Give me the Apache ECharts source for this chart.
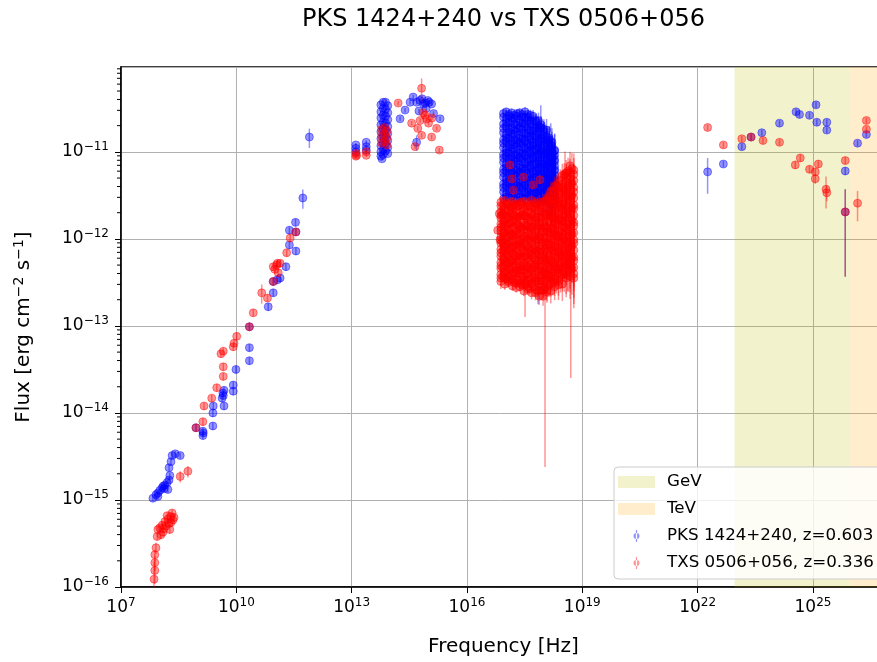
<!DOCTYPE html>
<html>
<head>
<meta charset="utf-8">
<script src="https://cdn.jsdelivr.net/npm/echarts@6/dist/echarts.min.js"></script>
<style>
  html, body { margin: 0; padding: 0; background: #fff; }
  #chart { width: 877px; height: 662px; }
</style>
</head>
<body>
<div id="chart"></div>
<script>
// Rows are [log10 frequency (Hz), log10 flux (erg cm^-2 s^-1), fractional flux error]

// PKS 1424+240 — radio to sub-mm
const pksRadio = [
  [7.83,-14.98,0.08],[7.91,-14.94,0.08],[7.96,-14.92,0.08],[8.01,-14.89,0.08],[8.07,-14.86,0.08],
  [8.12,-14.87,0.08],[8.14,-14.83,0.08],[8.20,-14.80,0.08],[8.25,-14.77,0.08],[8.22,-14.88,0.08],
  [8.27,-14.72,0.08],[8.25,-14.63,0.08],[8.30,-14.56,0.08],[8.33,-14.49,0.08],[8.41,-14.47,0.08],
  [8.54,-14.49,0.08],[7.96,-14.96,0.08],[8.10,-14.84,0.08],
  [8.95,-14.17,0.10],[9.13,-14.21,0.10],[9.13,-14.26,0.10],[9.14,-14.23,0.08],
  [9.39,-14.15,0.10],[9.39,-14.00,0.10],[9.40,-13.92,0.10],
  [9.65,-13.77,0.10],[9.68,-13.74,0.10],[9.63,-13.83,0.10],[9.66,-13.80,0.10],[9.68,-13.92,0.10],
  [9.92,-13.68,0.10],[9.92,-13.75,0.10],[9.99,-13.50,0.10],
  [10.34,-13.25,0.10],[10.34,-13.40,0.10],[10.34,-13.01,0.10],
  [10.83,-12.78,0.10],[10.96,-12.62,0.10],[10.96,-12.49,0.10],[11.07,-12.47,0.10],[11.14,-12.45,0.10],
  [11.29,-12.32,0.10],[11.38,-12.07,0.10],[11.55,-12.14,0.10],[11.38,-11.90,0.10],[11.55,-11.92,0.10],
  [11.54,-11.81,0.10],[11.73,-11.53,0.25],[11.90,-10.83,0.25]
];

// PKS 1424+240 — infrared / optical / UV
const pksOptical = [
  [13.11,-10.92,0.05],[13.11,-10.96,0.05],[13.11,-11.00,0.05],
  [13.38,-10.89,0.05],[13.38,-10.94,0.05],[13.38,-10.98,0.05],
  [13.76,-10.46,0.05],[13.76,-10.54,0.05],[13.76,-10.61,0.05],[13.76,-10.69,0.05],[13.76,-10.77,0.05],
  [13.76,-10.85,0.05],[13.76,-10.93,0.05],[13.76,-11.00,0.05],[13.76,-11.05,0.05],
  [13.82,-10.43,0.05],[13.82,-10.50,0.05],[13.82,-10.58,0.05],[13.82,-10.66,0.05],[13.82,-10.74,0.05],
  [13.82,-10.82,0.05],[13.82,-10.90,0.05],[13.82,-10.98,0.05],[13.82,-11.03,0.05],
  [13.88,-10.43,0.05],[13.88,-10.51,0.05],[13.88,-10.59,0.05],[13.88,-10.67,0.05],[13.88,-10.75,0.05],
  [13.88,-10.83,0.05],[13.88,-10.91,0.05],[13.88,-10.99,0.05],
  [13.94,-10.47,0.05],[13.94,-10.55,0.05],[13.94,-10.63,0.05],[13.94,-10.71,0.05],[13.94,-10.79,0.05],
  [13.94,-10.87,0.05],[13.94,-10.95,0.05],[13.94,-11.02,0.05],[13.79,-11.08,0.05],
  [14.39,-10.52,0.06],[14.52,-10.43,0.06],[14.60,-10.37,0.06],[14.69,-10.43,0.06],[14.75,-10.53,0.06],
  [14.78,-10.41,0.06],[14.87,-10.45,0.06],[14.94,-10.50,0.06],[14.98,-10.41,0.06],[15.08,-10.45,0.06],
  [15.13,-10.56,0.06],[14.26,-10.62,0.06],[15.30,-10.62,0.06],[14.69,-10.89,0.20],[15.02,-10.43,0.06],
  [14.83,-10.39,0.06],[14.91,-10.44,0.06]
];

// PKS 1424+240 — X-ray spectra on a common frequency grid
const pksXrayNu = [16.95,17.02,17.09,17.16,17.23,17.30,17.37,17.44,17.51,17.58,
                   17.65,17.72,17.79,17.86,17.93,18.00,18.07,18.14,18.21,18.28];
const pksXrayErr = [0.12,0.10,0.10,0.10,0.10,0.10,0.11,0.12,0.13,0.14,
                    0.16,0.18,0.20,0.23,0.26,0.30,0.34,0.38,0.45,0.55];
const pksXraySpectra = [
  [-10.56,-10.54,-10.57,-10.55,-10.58,-10.56,-10.55,-10.57,-10.54,-10.57,-10.58,-10.59,-10.64,-10.64,-10.69,-10.74,-10.75,-10.84,-10.89,-10.98],
  [-10.60,-10.62,-10.59,-10.61,-10.62,-10.59,-10.63,-10.60,-10.61,-10.60,-10.64,-10.65,-10.65,-10.71,-10.72,-10.77,-10.83,-10.86,-10.93,-10.99],
  [-10.68,-10.66,-10.67,-10.65,-10.68,-10.69,-10.66,-10.67,-10.68,-10.65,-10.68,-10.72,-10.73,-10.73,-10.80,-10.81,-10.86,-10.90,-10.98,-11.04],
  [-10.73,-10.71,-10.74,-10.72,-10.75,-10.73,-10.72,-10.74,-10.71,-10.74,-10.75,-10.76,-10.80,-10.80,-10.84,-10.88,-10.89,-10.97,-11.01,-11.09],
  [-10.78,-10.80,-10.77,-10.79,-10.80,-10.77,-10.81,-10.78,-10.79,-10.78,-10.82,-10.82,-10.82,-10.88,-10.88,-10.93,-10.98,-11.00,-11.06,-11.11],
  [-10.86,-10.84,-10.85,-10.83,-10.86,-10.87,-10.84,-10.85,-10.86,-10.83,-10.86,-10.89,-10.90,-10.90,-10.97,-10.97,-11.01,-11.04,-11.12,-11.16],
  [-10.90,-10.88,-10.91,-10.89,-10.92,-10.90,-10.89,-10.91,-10.88,-10.91,-10.92,-10.92,-10.97,-10.96,-10.99,-11.03,-11.03,-11.11,-11.13,-11.20],
  [-10.95,-10.97,-10.94,-10.96,-10.97,-10.94,-10.98,-10.95,-10.96,-10.95,-10.98,-10.99,-10.98,-11.03,-11.03,-11.07,-11.12,-11.13,-11.18,-11.22],
  [-11.03,-11.01,-11.02,-11.00,-11.03,-11.04,-11.01,-11.02,-11.03,-11.00,-11.02,-11.06,-11.06,-11.06,-11.12,-11.11,-11.15,-11.17,-11.24,-11.27],
  [-11.07,-11.05,-11.08,-11.06,-11.09,-11.07,-11.06,-11.08,-11.05,-11.08,-11.08,-11.08,-11.13,-11.11,-11.14,-11.18,-11.17,-11.24,-11.25,-11.31],
  [-11.12,-11.14,-11.11,-11.13,-11.14,-11.11,-11.15,-11.12,-11.13,-11.12,-11.15,-11.15,-11.14,-11.19,-11.19,-11.22,-11.26,-11.26,-11.31,-11.33],
  [-11.20,-11.18,-11.19,-11.17,-11.20,-11.21,-11.18,-11.19,-11.20,-11.17,-11.19,-11.22,-11.22,-11.21,-11.27,-11.26,-11.29,-11.30,-11.36,-11.38],
  [-11.24,-11.22,-11.25,-11.23,-11.26,-11.24,-11.23,-11.25,-11.22,-11.25,-11.25,-11.25,-11.29,-11.27,-11.29,-11.32,-11.31,-11.37,-11.37,-11.42],
  [-11.29,-11.31,-11.28,-11.30,-11.31,-11.28,-11.32,-11.29,-11.30,-11.29,-11.32,-11.32,-11.30,-11.35,-11.34,-11.36,-11.40,-11.39,-11.43,-11.44],
  [-11.37,-11.35,-11.36,-11.34,-11.37,-11.38,-11.35,-11.36,-11.37,-11.34,-11.36,-11.38,-11.38,-11.37,-11.42,-11.41,-11.43,-11.43,-11.48,-11.49],
  [-11.41,-11.39,-11.42,-11.40,-11.43,-11.41,-11.40,-11.42,-11.39,-11.42,-11.42,-11.41,-11.45,-11.43,-11.45,-11.47,-11.45,-11.50,-11.50,-11.53],
  [-11.46,-11.48,-11.45,-11.47,-11.48,-11.45,-11.49,-11.46,-11.47,-11.46,-11.48,-11.48,-11.47,-11.50,-11.49,-11.51,-11.54,-11.53,-11.55,-11.55],
  [-11.54,-11.52,-11.53,-11.51,-11.54,-11.55,-11.52,-11.53,-11.54,-11.51,-11.52,-11.55,-11.54,-11.53,-11.57,-11.55,-11.57,-11.56,-11.60,-11.60]
];
const pksXrayExtra = [[17.92,-10.72,0.80],[18.18,-10.95,0.90],[17.85,-11.45,0.95],[18.25,-11.05,0.60]];

// PKS 1424+240 — gamma rays
const pksGamma = [
  [22.26,-11.23,0.44],[22.67,-11.14,0.08],[23.15,-10.94,0.08],[23.39,-10.83,0.08],[23.67,-10.78,0.08],
  [24.13,-10.67,0.08],[24.56,-10.54,0.08],[24.65,-10.57,0.08],[24.91,-10.58,0.08],[25.08,-10.46,0.08],
  [25.10,-10.66,0.08],[25.36,-10.66,0.08],[25.36,-10.75,0.08],[25.84,-11.22,0.10],[25.84,-11.69,0.82],
  [26.16,-10.90,0.08],[26.39,-10.80,0.08]
];

// TXS 0506+056 — radio to sub-mm
const txsRadio = [
  [7.88,-15.63,0.15],[7.88,-15.72,0.20],[7.88,-15.81,0.30],[7.86,-15.91,0.60],[7.91,-15.55,0.15],
  [7.94,-15.42,0.10],[7.96,-15.34,0.10],[8.01,-15.32,0.10],[8.07,-15.29,0.10],[8.09,-15.37,0.10],
  [8.14,-15.25,0.10],[8.17,-15.30,0.10],[8.22,-15.22,0.10],[8.25,-15.27,0.10],[8.30,-15.19,0.10],
  [8.33,-15.15,0.10],[8.35,-15.23,0.10],[8.38,-15.20,0.10],[8.27,-15.34,0.10],[8.04,-15.40,0.10],
  [8.20,-15.18,0.10],[8.12,-15.33,0.10],[8.30,-15.26,0.10],
  [8.54,-14.73,0.15],[8.74,-14.67,0.15],
  [8.95,-14.17,0.10],[9.13,-14.10,0.10],[9.16,-13.92,0.10],[9.36,-13.83,0.10],[9.49,-13.71,0.10],
  [9.66,-13.58,0.10],[9.66,-13.47,0.10],[9.66,-13.29,0.10],[9.60,-13.32,0.10],
  [9.92,-13.24,0.10],[9.94,-13.20,0.10],[10.01,-13.12,0.10],[10.34,-13.01,0.10],[10.44,-12.85,0.10],
  [10.66,-12.62,0.25],[10.81,-12.68,0.10],
  [10.96,-12.32,0.10],[11.05,-12.30,0.10],[11.07,-12.28,0.10],[11.14,-12.28,0.10],[11.09,-12.39,0.10],
  [11.00,-12.35,0.10],[10.96,-12.49,0.10],[11.31,-12.16,0.10],[11.40,-11.99,0.10],[11.55,-11.92,0.10]
];

// TXS 0506+056 — infrared / optical / UV
const txsOptical = [
  [13.11,-11.02,0.05],[13.11,-11.05,0.05],[13.13,-11.04,0.05],[13.38,-11.00,0.05],[13.38,-11.04,0.05],
  [13.78,-10.74,0.05],[13.78,-10.82,0.05],[13.78,-10.90,0.05],[13.86,-10.72,0.05],[13.86,-10.80,0.05],
  [13.86,-10.88,0.05],[13.92,-10.76,0.05],[13.92,-10.84,0.05],[13.92,-10.92,0.05],
  [14.21,-10.44,0.06],[14.82,-10.27,0.30],[14.56,-10.67,0.06],[14.78,-10.64,0.06],[15.00,-10.67,0.06],
  [15.21,-10.73,0.06],[14.82,-10.81,0.06],[15.08,-10.83,0.06],[14.65,-10.94,0.06],[15.28,-10.98,0.06],
  [14.91,-10.58,0.06],[14.72,-10.73,0.06],[15.09,-10.61,0.06],[14.86,-10.55,0.06],[14.95,-10.62,0.06]
];

// TXS 0506+056 — X-ray spectra, first frequency grid
const txsXrayNu = [16.88,16.98,17.08,17.18,17.28,17.38,17.48,17.58,17.68,17.78,
                   17.88,17.98,18.08,18.18,18.28,18.38,18.48,18.58,18.68,18.78];
const txsXrayErr = [0.18,0.14,0.12,0.12,0.12,0.12,0.13,0.14,0.16,0.18,
                    0.20,0.22,0.25,0.28,0.30,0.33,0.36,0.40,0.45,0.55];
const txsXraySpectra = [
  [-11.58,-11.56,-11.59,-11.57,-11.60,-11.58,-11.57,-11.59,-11.56,-11.59,-11.58,-11.57,-11.54,-11.45,-11.40,-11.36,-11.27,-11.24,-11.16,-11.21],
  [-11.62,-11.64,-11.61,-11.63,-11.64,-11.61,-11.65,-11.62,-11.64,-11.63,-11.65,-11.64,-11.56,-11.53,-11.45,-11.41,-11.37,-11.28,-11.24,-11.26],
  [-11.69,-11.67,-11.68,-11.66,-11.69,-11.70,-11.68,-11.69,-11.70,-11.67,-11.68,-11.70,-11.64,-11.56,-11.55,-11.46,-11.41,-11.34,-11.31,-11.33],
  [-11.73,-11.71,-11.74,-11.72,-11.75,-11.74,-11.73,-11.75,-11.72,-11.76,-11.75,-11.74,-11.72,-11.63,-11.59,-11.54,-11.46,-11.43,-11.36,-11.41],
  [-11.76,-11.79,-11.76,-11.78,-11.79,-11.77,-11.81,-11.78,-11.80,-11.79,-11.82,-11.81,-11.73,-11.71,-11.64,-11.59,-11.56,-11.48,-11.44,-11.46],
  [-11.83,-11.81,-11.83,-11.81,-11.84,-11.86,-11.84,-11.85,-11.86,-11.83,-11.85,-11.87,-11.81,-11.74,-11.73,-11.65,-11.61,-11.53,-11.51,-11.53],
  [-11.87,-11.85,-11.89,-11.87,-11.91,-11.89,-11.89,-11.91,-11.88,-11.92,-11.91,-11.91,-11.89,-11.81,-11.77,-11.73,-11.65,-11.63,-11.56,-11.61],
  [-11.91,-11.93,-11.91,-11.94,-11.95,-11.93,-11.97,-11.94,-11.96,-11.96,-11.98,-11.98,-11.91,-11.89,-11.82,-11.78,-11.75,-11.67,-11.63,-11.65],
  [-11.98,-11.96,-11.98,-11.96,-12.00,-12.02,-12.00,-12.01,-12.02,-12.00,-12.01,-12.04,-11.99,-11.92,-11.91,-11.83,-11.80,-11.73,-11.71,-11.73],
  [-12.02,-12.00,-12.04,-12.02,-12.06,-12.05,-12.05,-12.07,-12.04,-12.08,-12.08,-12.08,-12.07,-11.99,-11.95,-11.92,-11.84,-11.82,-11.76,-11.81],
  [-12.05,-12.08,-12.06,-12.09,-12.10,-12.08,-12.13,-12.10,-12.13,-12.12,-12.15,-12.15,-12.08,-12.07,-12.00,-11.97,-11.94,-11.87,-11.83,-11.85],
  [-12.12,-12.10,-12.13,-12.11,-12.15,-12.17,-12.15,-12.16,-12.18,-12.16,-12.18,-12.21,-12.16,-12.10,-12.09,-12.02,-11.99,-11.92,-11.91,-11.93],
  [-12.16,-12.14,-12.18,-12.16,-12.20,-12.20,-12.20,-12.22,-12.19,-12.24,-12.24,-12.25,-12.24,-12.17,-12.14,-12.10,-12.03,-12.02,-11.96,-12.01],
  [-12.20,-12.23,-12.21,-12.24,-12.25,-12.23,-12.29,-12.26,-12.29,-12.29,-12.31,-12.32,-12.26,-12.25,-12.19,-12.15,-12.13,-12.06,-12.03,-12.05],
  [-12.27,-12.25,-12.28,-12.26,-12.31,-12.33,-12.31,-12.32,-12.34,-12.32,-12.35,-12.39,-12.34,-12.28,-12.28,-12.21,-12.18,-12.12,-12.11,-12.13],
  [-12.31,-12.30,-12.33,-12.32,-12.36,-12.36,-12.36,-12.39,-12.36,-12.41,-12.42,-12.42,-12.41,-12.35,-12.32,-12.29,-12.22,-12.21,-12.16,-12.21],
  [-12.34,-12.38,-12.35,-12.39,-12.40,-12.39,-12.43,-12.41,-12.45,-12.45,-12.48,-12.49,-12.43,-12.42,-12.37,-12.34,-12.32,-12.26,-12.23,-12.25],
  [-12.41,-12.40,-12.43,-12.42,-12.46,-12.48,-12.47,-12.48,-12.51,-12.49,-12.52,-12.56,-12.51,-12.45,-12.46,-12.39,-12.37,-12.31,-12.31,-12.33],
  [-12.45,-12.45,-12.48,-12.47,-12.51,-12.51,-12.52,-12.55,-12.52,-12.58,-12.59,-12.59,-12.59,-12.52,-12.50,-12.48,-12.41,-12.41,-12.35,-12.40],
  [-12.49,-12.52,-12.50,-12.54,-12.56,-12.55,-12.60,-12.58,-12.62,-12.62,-12.66,-12.66,-12.61,-12.60,-12.55,-12.53,-12.52,-12.45,-12.43,-12.45]
];

// TXS 0506+056 — X-ray spectra, second (offset) frequency grid
const txsXrayNu2 = [16.93,17.03,17.13,17.23,17.33,17.43,17.53,17.63,17.73,17.83,
                    17.93,18.03,18.13,18.23,18.33,18.43,18.53,18.63,18.73];
const txsXrayErr2 = [0.16,0.13,0.12,0.12,0.12,0.12,0.13,0.15,0.17,0.19,
                     0.21,0.24,0.27,0.29,0.32,0.35,0.38,0.42,0.50];
const txsXraySpectra2 = [
  [-11.62,-11.60,-11.63,-11.61,-11.62,-11.60,-11.63,-11.61,-11.62,-11.60,-11.61,-11.57,-11.51,-11.45,-11.39,-11.33,-11.27,-11.22,-11.19],
  [-11.72,-11.74,-11.71,-11.73,-11.75,-11.72,-11.74,-11.76,-11.73,-11.75,-11.76,-11.72,-11.66,-11.60,-11.55,-11.49,-11.44,-11.39,-11.36],
  [-11.83,-11.85,-11.82,-11.86,-11.84,-11.87,-11.85,-11.88,-11.86,-11.89,-11.88,-11.85,-11.80,-11.75,-11.69,-11.64,-11.59,-11.54,-11.50],
  [-11.93,-11.95,-11.94,-11.97,-11.95,-11.99,-11.97,-12.00,-11.98,-12.02,-12.00,-11.98,-11.93,-11.88,-11.83,-11.78,-11.73,-11.68,-11.65],
  [-12.04,-12.06,-12.04,-12.08,-12.07,-12.10,-12.09,-12.12,-12.11,-12.14,-12.13,-12.11,-12.06,-12.01,-11.97,-11.92,-11.87,-11.83,-11.79],
  [-12.14,-12.17,-12.15,-12.19,-12.18,-12.22,-12.20,-12.24,-12.22,-12.26,-12.25,-12.23,-12.19,-12.14,-12.10,-12.06,-12.01,-11.97,-11.94],
  [-12.23,-12.26,-12.25,-12.29,-12.28,-12.32,-12.31,-12.35,-12.33,-12.37,-12.36,-12.35,-12.31,-12.27,-12.23,-12.19,-12.15,-12.11,-12.08],
  [-12.33,-12.36,-12.35,-12.39,-12.38,-12.43,-12.41,-12.46,-12.44,-12.49,-12.48,-12.46,-12.42,-12.38,-12.35,-12.31,-12.27,-12.24,-12.21],
  [-12.43,-12.46,-12.45,-12.50,-12.48,-12.53,-12.52,-12.57,-12.55,-12.60,-12.59,-12.57,-12.53,-12.50,-12.46,-12.43,-12.40,-12.37,-12.34]
];
const txsXrayExtra = [
  [18.03,-12.40,0.994],[18.70,-12.20,0.96],[17.51,-12.50,0.60],[18.62,-12.30,0.50],[18.55,-11.25,0.80],
  [16.84,-11.71,0.15],[16.86,-12.01,0.15],[16.80,-11.90,0.12],
  [17.12,-11.15,0.10],[17.17,-11.31,0.10],[17.21,-11.44,0.10],[17.47,-11.29,0.10],[17.72,-11.38,0.10],[17.90,-11.32,0.10]
];

// TXS 0506+056 — gamma rays
const txsGamma = [
  [22.26,-10.72,0.08],[22.67,-10.92,0.08],[23.15,-10.85,0.08],[23.39,-10.83,0.08],[23.70,-10.87,0.08],
  [24.13,-10.89,0.08],[24.54,-11.15,0.10],[24.67,-11.07,0.10],[24.91,-11.20,0.10],[25.06,-11.23,0.10],
  [25.14,-11.14,0.10],[25.06,-11.31,0.12],[25.34,-11.43,0.40],[25.36,-11.47,0.20],[25.84,-11.10,0.10],
  [25.84,-11.69,0.82],[26.16,-11.59,0.38],[26.39,-10.64,0.08],[26.39,-10.74,0.08]
];

// Energy bands, log10 frequency (Hz)
const bandGeV = [22.96, 25.97];
const bandTeV = [25.97, 27.5];

// Axis ranges (log10) and tick lists
const xRangeLog = [7, 26.9];
const yRangeLog = [-16, -10.025];
const yDecades = [-16, -15, -14, -13, -12, -11];
const minorMantissas = [2, 3, 4, 5, 6, 7, 8, 9];

const PKS_NAME = 'PKS 1424+240, z=0.603';
const TXS_NAME = 'TXS 0506+056, z=0.336';
const BLUE = 'rgba(0,0,255,0.42)';
const RED = 'rgba(255,0,0,0.42)';
const FONT = 'DejaVu Sans';

const p10 = v => Math.pow(10, v);
const toPts = rows => rows.map(r => [p10(r[0]), p10(r[1]), r[2]]);
function spectraPts(nu, spectra, err) {
  const out = [];
  spectra.forEach(s => s.forEach((f, i) => out.push([p10(nu[i]), p10(f), err[i]])));
  return out;
}

const pksPts = [].concat(
  toPts(pksRadio), toPts(pksOptical),
  spectraPts(pksXrayNu, pksXraySpectra, pksXrayErr), toPts(pksXrayExtra), toPts(pksGamma));
const txsPts = [].concat(
  toPts(txsRadio), toPts(txsOptical),
  spectraPts(txsXrayNu, txsXraySpectra, txsXrayErr),
  spectraPts(txsXrayNu2, txsXraySpectra2, txsXrayErr2),
  toPts(txsXrayExtra), toPts(txsGamma));

const minorTicks = [];
yDecades.forEach(d => minorMantissas.forEach(m => {
  const v = m * p10(d);
  if (v < p10(yRangeLog[1])) minorTicks.push([p10(xRangeLog[0]), v]);
}));

// Error-bar marker: vertical bar with a dot, for the legend
const errIcon = 'path://M0,6A3,3 0 1,0 6,6A3,3 0 1,0 0,6Z M2.4,0H3.6V12H2.4Z';

function errorbarSeries(name, pts, color) {
  return {
    name, type: 'custom', coordinateSystem: 'cartesian2d', clip: true, z: 3,
    itemStyle: { color }, data: pts,
    renderItem(params, api) {
      const nu = api.value(0), f = api.value(1), e = api.value(2);
      const c = api.coord([nu, f]);
      const hi = api.coord([nu, f * (1 + e)]);
      const lo = api.coord([nu, Math.max(f * (1 - e), 1e-20)]);
      return { type: 'group', children: [
        { type: 'line', shape: { x1: c[0], y1: lo[1], x2: c[0], y2: hi[1] },
          style: { stroke: color, lineWidth: 1.5 } },
        { type: 'circle', shape: { cx: c[0], cy: c[1], r: 4 },
          style: { fill: color, stroke: color, lineWidth: 1 } }
      ]};
    }
  };
}

function bandSeries(name, band, color) {
  return {
    name, type: 'custom', coordinateSystem: 'cartesian2d', clip: true, silent: true, z: 1,
    itemStyle: { color },
    data: [[p10(band[0]), p10(band[1])]],
    renderItem(params, api) {
      const cs = params.coordSys;
      const x0 = api.coord([api.value(0), 1e-13])[0];
      const x1 = api.coord([api.value(1), 1e-13])[0];
      return { type: 'rect', shape: { x: x0, y: cs.y, width: x1 - x0, height: cs.height },
        style: { fill: color } };
    }
  };
}

function powLabel(value) {
  const e = Math.log10(value);
  const r = Math.round(e);
  if (Math.abs(e - r) > 1e-6) return '';
  return '{b|10}{s|' + String(r).replace('-', '\u2212') + '}';
}

const tickRich = {
  b: { fontFamily: FONT, fontSize: 17, color: '#000', lineHeight: 22 },
  s: { fontFamily: FONT, fontSize: 12, color: '#000', lineHeight: 13, verticalAlign: 'top' }
};

const chart = echarts.init(document.getElementById('chart'), null, { renderer: 'canvas' });
chart.setOption({
  animation: false,
  backgroundColor: '#fff',
  title: {
    text: 'PKS 1424+240 vs TXS 0506+056',
    left: 503.5, top: 6, textAlign: 'center', padding: 0,
    textStyle: { fontFamily: FONT, fontSize: 24, fontWeight: 'normal', color: '#000', lineHeight: 28 }
  },
  grid: {
    left: 121, top: 67, right: -9, bottom: 75, containLabel: false, outerBoundsMode: 'none',
    show: true, borderColor: '#000', borderWidth: 1.5, backgroundColor: 'transparent'
  },
  legend: {
    orient: 'vertical', left: 614, top: 467,
    data: [
      { name: 'GeV', icon: 'rect' },
      { name: 'TeV', icon: 'rect' },
      { name: PKS_NAME, icon: errIcon },
      { name: TXS_NAME, icon: errIcon }
    ],
    itemWidth: 37, itemHeight: 12, itemGap: 7, symbolKeepAspect: true,
    textStyle: { fontFamily: FONT, fontSize: 16.7, color: '#000', lineHeight: 20, padding: [0, 0, 0, 7] },
    backgroundColor: 'rgba(255,255,255,0.8)', borderColor: '#cccccc', borderWidth: 1, borderRadius: 4,
    padding: [5, 10, 6, 4], selectedMode: false
  },
  xAxis: {
    type: 'log', logBase: 10, min: p10(xRangeLog[0]), max: p10(xRangeLog[1]), interval: 3,
    name: 'Frequency [Hz]', nameLocation: 'middle', nameGap: 50,
    nameTextStyle: { fontFamily: FONT, fontSize: 20, color: '#000' },
    axisLine: { show: true, lineStyle: { color: '#000', width: 1.5 } },
    axisTick: { show: true, length: 6, lineStyle: { color: '#000', width: 1 } },
    axisLabel: { formatter: powLabel, rich: tickRich, margin: 10, showMaxLabel: false },
    splitLine: { show: true, lineStyle: { color: '#b0b0b0', width: 1 } },
    minorTick: { show: false }, minorSplitLine: { show: false }
  },
  yAxis: {
    type: 'log', logBase: 10, min: p10(yRangeLog[0]), max: p10(yRangeLog[1]), interval: 1,
    name: '{b|Flux [erg cm}{s|\u22122}{b| s}{s|\u22121}{b|]}', nameLocation: 'middle', nameGap: 85, nameRotate: 90,
    nameTextStyle: { rich: {
      b: { fontFamily: FONT, fontSize: 20, color: '#000', lineHeight: 24 },
      s: { fontFamily: FONT, fontSize: 14, color: '#000', lineHeight: 14, verticalAlign: 'top' }
    } },
    axisLine: { show: true, lineStyle: { color: '#000', width: 1.5 } },
    axisTick: { show: true, length: 6, lineStyle: { color: '#000', width: 1 } },
    axisLabel: { formatter: powLabel, rich: tickRich, margin: 12, showMaxLabel: false },
    splitLine: { show: true, lineStyle: { color: '#b0b0b0', width: 1 } },
    minorTick: { show: false }, minorSplitLine: { show: false }
  },
  series: [
    bandSeries('GeV', bandGeV, 'rgba(191,191,0,0.2)'),
    bandSeries('TeV', bandTeV, 'rgba(255,165,0,0.2)'),
    errorbarSeries(PKS_NAME, pksPts, BLUE),
    errorbarSeries(TXS_NAME, txsPts, RED),
    {
      name: 'minor-ticks', type: 'custom', coordinateSystem: 'cartesian2d', clip: false, silent: true, z: 5,
      data: minorTicks,
      renderItem(params, api) {
        const p = api.coord([api.value(0), api.value(1)]);
        return { type: 'line', shape: { x1: p[0] - 4, y1: p[1], x2: p[0], y2: p[1] },
          style: { stroke: '#000', lineWidth: 1 } };
      }
    }
  ]
});
</script>
</body>
</html>
